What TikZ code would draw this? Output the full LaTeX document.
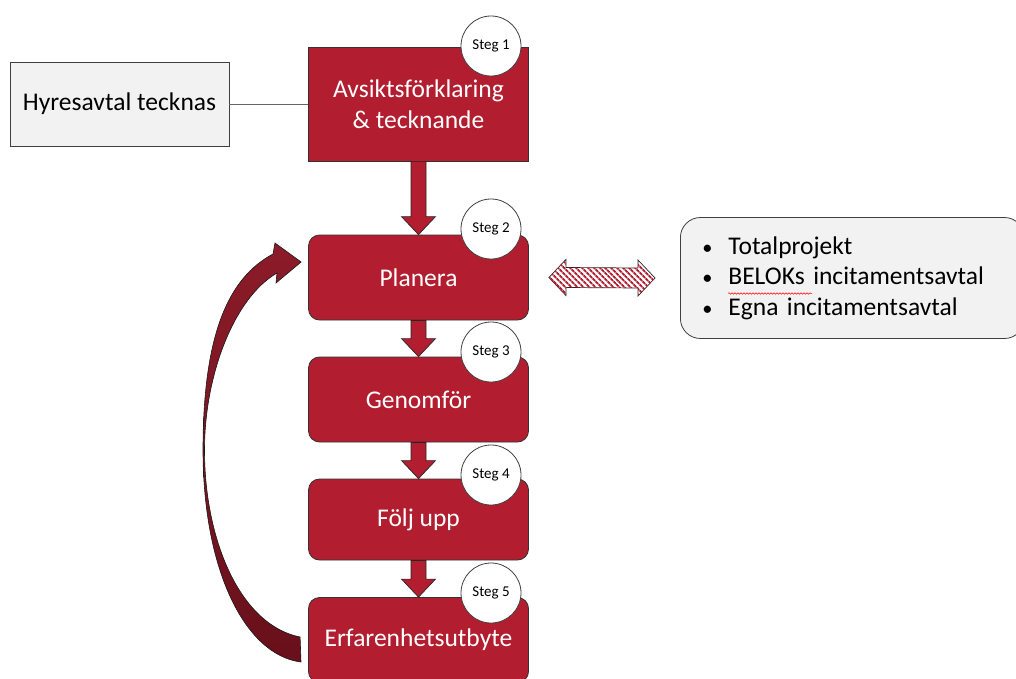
\documentclass[tikz,border=0pt]{standalone}
\usepackage{fontspec}
\setmainfont{Carlito}
\usetikzlibrary{calc,patterns.meta,decorations.pathmorphing}
\definecolor{stepred}{RGB}{178,30,48}
\definecolor{backtop}{RGB}{140,27,41}
\definecolor{backbot}{RGB}{104,16,27}
\definecolor{panelgray}{RGB}{242,242,242}
\definecolor{edgegray}{RGB}{64,64,64}
% block arrow pointing down from one box to the next
\newcommand{\blockdown}[2]{%
\draw [arrowblock] ($(#1.south)+(-7.5,0)$) -- ($(#2.north)+(-7.5,-18)$) -- ($(#2.north)+(-17,-18)$) -- (#2.north)
  -- ($(#2.north)+(17,-18)$) -- ($(#2.north)+(7.5,-18)$) -- ($(#1.south)+(7.5,0)$) -- cycle;}
\begin{document}
\begin{tikzpicture}[x=1pt,y=-1pt]
\tikzstyle{every node}+=[inner sep=0pt, font=\fontsize{25.5}{31}\selectfont]
\tikzstyle{stepbox}=[draw=black!80, line width=0.8pt, fill=stepred, text=white, minimum width=220pt, minimum height=85pt, rounded corners=11pt, align=center]
\tikzstyle{stepno}=[circle, draw=edgegray, fill=white, line width=0.8pt, minimum size=60pt, font=\fontsize{15}{17}\selectfont]
\tikzstyle{graybox}=[draw=edgegray, line width=0.8pt, fill=panelgray]
\tikzstyle{arrowblock}=[draw=black!85, fill=stepred, line width=0.7pt]
\clip (0,0) rectangle (1016,679);
% steps
\node [stepbox, rounded corners=0pt, minimum height=114pt] (avsikt) at (418.5,104) {Avsiktsförklaring\\\& tecknande};
\node [stepbox] (planera) at (418.5,277.5) {Planera};
\node [stepbox] (genomfor) at (418.5,399.5) {Genomför};
\node [stepbox, minimum height=81pt] (foljupp) at (418.5,519.5) {Följ upp};
\node [stepbox] (erfarenhet) at (418.5,640) {Erfarenhetsutbyte};
% side boxes
\node [graybox, minimum width=219pt, minimum height=84pt] (hyres) at (119.5,104) {Hyresavtal tecknas};
\draw [edgegray!80, line width=0.7pt] (hyres.east) -- (avsikt.west);
\node [graybox, rounded corners=20pt, minimum height=121pt, text width=300pt, inner xsep=22pt, align=left, anchor=west, font=\fontsize{25.5}{30.5}\selectfont] (lista) at (680,278)
  {\makebox[26pt][l]{\scalebox{0.8}{\textbullet}}Totalprojekt\\\makebox[26pt][l]{\scalebox{0.8}{\textbullet}}BELOKs incitamentsavtal\\\makebox[26pt][l]{\scalebox{0.8}{\textbullet}}Egna incitamentsavtal};
\draw [red, line width=0.5pt, decorate, decoration={snake, amplitude=0.8pt, segment length=3pt}] ($(lista.west)+(48,15.5)$) -- ($(lista.west)+(132,15.5)$);
% arrows down
\blockdown{avsikt}{planera}
\blockdown{planera}{genomfor}
\blockdown{genomfor}{foljupp}
\blockdown{foljupp}{erfarenhet}
% striped double arrow
\coordinate (ltip) at ($(planera.east)+(20,0)$);
\coordinate (rtip) at ($(lista.west)+(-25,0)$);
\draw [black!85, line width=0.7pt, fill=white, postaction={pattern={Lines[angle=-45, distance=4pt, line width=2pt]}, pattern color=stepred}]
  (ltip) -- ($(ltip)+(17,-18)$) -- ($(ltip)+(17,-10)$) -- ($(rtip)+(-17,-10)$) -- ($(rtip)+(-17,-18)$) -- (rtip)
  -- ($(rtip)+(-17,18)$) -- ($(rtip)+(-17,10)$) -- ($(ltip)+(17,10)$) -- ($(ltip)+(17,18)$) -- cycle;
% curved arrow back to Planera
\coordinate (backtail) at ($(erfarenhet.west)+(-8,-3)$);
\coordinate (backtip) at ($(planera.west)+(-7,-15.5)$);
\draw [black!90, line width=0.6pt, top color=backtop, bottom color=backbot]
  (backtail) -- (301,662) .. controls (245,655) and (203,570) .. (203,450)
  .. controls (203,335) and (228,278) .. (273,254) -- (275,243) -- (backtip) -- (276,283) -- (277,273)
  .. controls (234,298) and (204.5,375) .. (204.5,450) .. controls (204.5,540) and (240,625) .. (backtail) -- cycle;
% step numbers
\node [stepno] (s1) at (491,46) {Steg 1};
\node [stepno] (s2) at (491,229) {Steg 2};
\node [stepno] (s3) at (491,352) {Steg 3};
\node [stepno] (s4) at (491,475) {Steg 4};
\node [stepno] (s5) at (491,593) {Steg 5};
\end{tikzpicture}
\end{document}
